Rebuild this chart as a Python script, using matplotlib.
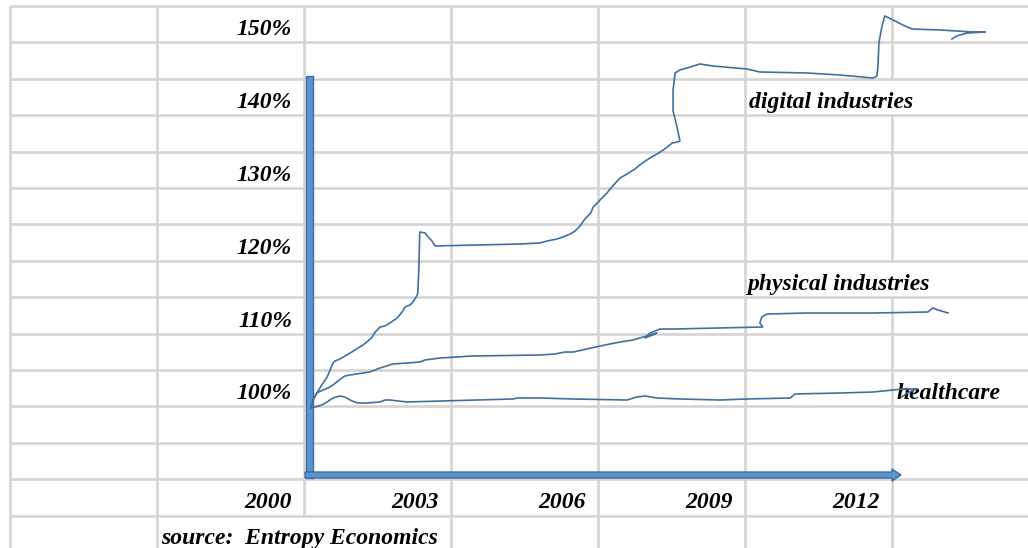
import matplotlib
matplotlib.use("Agg")
import matplotlib.pyplot as plt
from matplotlib.patches import FancyArrow, Rectangle


# index values (2000 = 100%)
digital_years = [2000.02, 2000.06, 2000.14, 2000.24, 2000.35, 2000.41, 2000.47, 2000.51,
                 2000.61, 2000.82, 2001.08, 2001.16, 2001.27, 2001.33, 2001.43, 2001.53,
                 2001.63, 2001.78, 2001.88, 2001.94, 2002.04, 2002.10, 2002.18, 2002.20,
                 2002.22, 2002.24, 2002.35, 2002.41, 2002.49, 2002.55, 2004.29, 2004.69,
                 2004.84, 2005.04, 2005.16, 2005.31, 2005.41, 2005.51, 2005.61, 2005.73,
                 2005.78, 2005.92, 2006.06, 2006.16, 2006.27, 2006.33, 2006.47, 2006.63,
                 2006.73, 2006.84, 2006.94, 2007.08, 2007.18, 2007.29, 2007.39, 2007.49,
                 2007.55, 2007.49, 2007.41, 2007.41, 2007.45, 2007.55, 2007.76, 2007.96,
                 2008.22, 2008.92, 2009.18, 2010.14, 2010.82, 2011.49, 2011.57, 2011.59,
                 2011.61, 2011.67, 2011.73, 2011.90, 2012.10, 2012.29, 2012.86, 2013.53,
                 2013.78, 2013.41, 2013.20, 2013.10]
digital_pct = [100.0, 100.96, 101.92, 103.02, 104.12, 105.08, 106.04, 106.32,
               106.59, 107.42, 108.52, 108.93, 109.62, 110.30, 110.99, 111.13,
               111.54, 112.23, 113.05, 113.74, 114.01, 114.42, 115.25, 115.66,
               118.82, 124.04, 123.90, 123.35, 122.80, 122.12, 122.39, 122.53,
               122.80, 123.08, 123.35, 123.76, 124.18, 124.86, 125.82, 126.65,
               127.47, 128.43, 129.40, 130.22, 131.04, 131.46, 132.01, 132.69,
               133.24, 133.79, 134.20, 134.75, 135.16, 135.71, 136.26, 136.40,
               136.54, 138.46, 140.66, 143.54, 145.88, 146.29, 146.70, 147.12,
               146.84, 146.43, 146.02, 145.88, 145.60, 145.19, 145.47, 146.70,
               150.00, 152.20, 153.71, 153.16, 152.47, 151.92, 151.79, 151.51,
               151.51, 151.37, 150.96, 150.55]

physical_years = [2000.02, 2000.06, 2000.14, 2000.22, 2000.37, 2000.47, 2000.57, 2000.71,
                  2000.82, 2001.08, 2001.22, 2001.43, 2001.69, 2001.98, 2002.24, 2002.35,
                  2002.65, 2003.33, 2004.69, 2005.00, 2005.20, 2005.37, 2005.65, 2005.92,
                  2006.12, 2006.33, 2006.59, 2006.73, 2006.80, 2007.08, 2006.84, 2006.94,
                  2007.14, 2007.41, 2009.24, 2009.18, 2009.22, 2009.33, 2010.14, 2011.49,
                  2012.61, 2012.71, 2012.82, 2013.02]
physical_pct = [100.0, 100.96, 101.92, 102.20, 102.61, 103.02, 103.57, 104.26,
                104.40, 104.67, 104.81, 105.36, 105.91, 106.04, 106.18, 106.46,
                106.73, 107.01, 107.14, 107.28, 107.55, 107.55, 107.97, 108.38,
                108.65, 108.93, 109.20, 109.48, 109.62, 110.16, 109.48, 110.16,
                110.71, 110.71, 110.99, 111.54, 112.36, 112.77, 112.91, 112.91,
                113.05, 113.60, 113.32, 112.91]

health_years = [2000.02, 2000.10, 2000.24, 2000.35, 2000.47, 2000.61, 2000.71, 2000.86,
                2000.98, 2001.16, 2001.43, 2001.53, 2001.63, 2001.98, 2004.14, 2004.24,
                2004.69, 2005.37, 2006.47, 2006.67, 2006.84, 2007.08, 2007.55, 2008.37,
                2008.92, 2009.80, 2009.90, 2010.82, 2011.49, 2012.10, 2012.39, 2012.18,
                2012.08]
health_pct = [99.86, 100.0, 100.27, 100.69, 101.24, 101.51, 101.37, 100.82,
              100.55, 100.55, 100.69, 100.96, 100.96, 100.69, 101.10, 101.24,
              101.24, 101.10, 100.96, 101.37, 101.51, 101.24, 101.10, 100.96,
              101.10, 101.24, 101.79, 101.92, 102.06, 102.47, 102.47, 101.92,
              101.37]

pct_labels = ["150%", "140%", "130%", "120%", "110%", "100%"]
year_labels = ["2000", "2003", "2006", "2009", "2012"]
series_names = ["digital industries", "physical industries", "healthcare"]
source_text = "source:  Entropy Economics"

# spreadsheet layout, in pixels
W, H = 1028, 548
COL0, COL_W, N_COLS = 10, 147, 7
ROW0, ROW_H, N_ROWS = 6, 36.4, 15
X0_PX, Y0_PX = 310, 407          # where (2000, 100%) sits
PX_PER_YEAR, PX_PER_PCT = 49, 7.28

GRID = "#d4d4d4"
LINE = "#41709f"
ARROW_FILL = "#5b93cf"
ARROW_EDGE = "#3a6ea5"
FONT = dict(family="Liberation Serif", weight="bold", style="italic",
            size=17, color="black")


def col_x(i):
    return COL0 + i * COL_W


def row_top(r):
    return ROW0 + r * ROW_H


def main():
    fig = plt.figure(figsize=(W / 100, H / 100), dpi=100)

    # sheet background
    bg = fig.add_axes([0, 0, 1, 1])
    bg.set_xlim(0, W)
    bg.set_ylim(H, 0)
    bg.axis("off")

    # cell borders hidden where text overflows into the next cell
    hidden = {(2, 14), (6, 2), (6, 7)}
    for i in range(N_COLS):
        for r in range(N_ROWS):
            if (i, r) in hidden:
                continue
            bg.plot([col_x(i), col_x(i)], [row_top(r), row_top(r + 1)],
                    color=GRID, lw=1.9, solid_capstyle="butt", zorder=1)
    for r in range(N_ROWS):
        bg.plot([COL0, W], [row_top(r), row_top(r)],
                color=GRID, lw=1.9, solid_capstyle="butt", zorder=1)

    # percent labels, right aligned in column 1, every second row
    for k, lab in enumerate(pct_labels):
        bg.text(col_x(2) - 12, row_top(2 * k + 1) - 7, lab,
                ha="right", va="baseline", zorder=3, **FONT)

    # year labels in row 13
    for k, lab in enumerate(year_labels):
        bg.text(col_x(k + 2) - 12, row_top(14) - 8, lab,
                ha="right", va="baseline", zorder=3, **FONT)

    bg.text(col_x(1) + 4, row_top(15) - 8, source_text,
            ha="left", va="baseline", zorder=3, **FONT)

    bg.text(col_x(5) + 4, row_top(3) - 7, series_names[0],
            ha="left", va="baseline", zorder=3, **FONT)
    bg.text(col_x(5) + 3, row_top(8) - 7, series_names[1],
            ha="left", va="baseline", zorder=3, **FONT)
    bg.text(col_x(6) + 5, row_top(11) - 7, series_names[2],
            ha="left", va="baseline", zorder=3, **FONT)

    # axis arrows
    bg.add_patch(Rectangle((X0_PX - 4, 76), 7, 402, facecolor=ARROW_FILL,
                           edgecolor=ARROW_EDGE, lw=1, zorder=2))
    bg.add_patch(FancyArrow(X0_PX - 5, 475, 596, 0, width=6, head_width=12,
                            head_length=9, length_includes_head=True,
                            facecolor=ARROW_FILL, edgecolor=ARROW_EDGE,
                            lw=1, zorder=2))

    # data axes mapped onto the sheet
    ax = fig.add_axes([0, 0, 1, 1])
    ax.set_xlim(2000 - X0_PX / PX_PER_YEAR, 2000 + (W - X0_PX) / PX_PER_YEAR)
    ax.set_ylim(100 - (H - Y0_PX) / PX_PER_PCT, 100 + Y0_PX / PX_PER_PCT)
    ax.patch.set_alpha(0)
    ax.axis("off")

    ax.plot(digital_years, digital_pct, color=LINE, lw=1.2)
    ax.plot(physical_years, physical_pct, color=LINE, lw=1.2)
    ax.plot(health_years, health_pct, color=LINE, lw=1.2)

    fig.savefig("out.png", dpi=100)
    plt.close(fig)


if __name__ == "__main__":
    main()
